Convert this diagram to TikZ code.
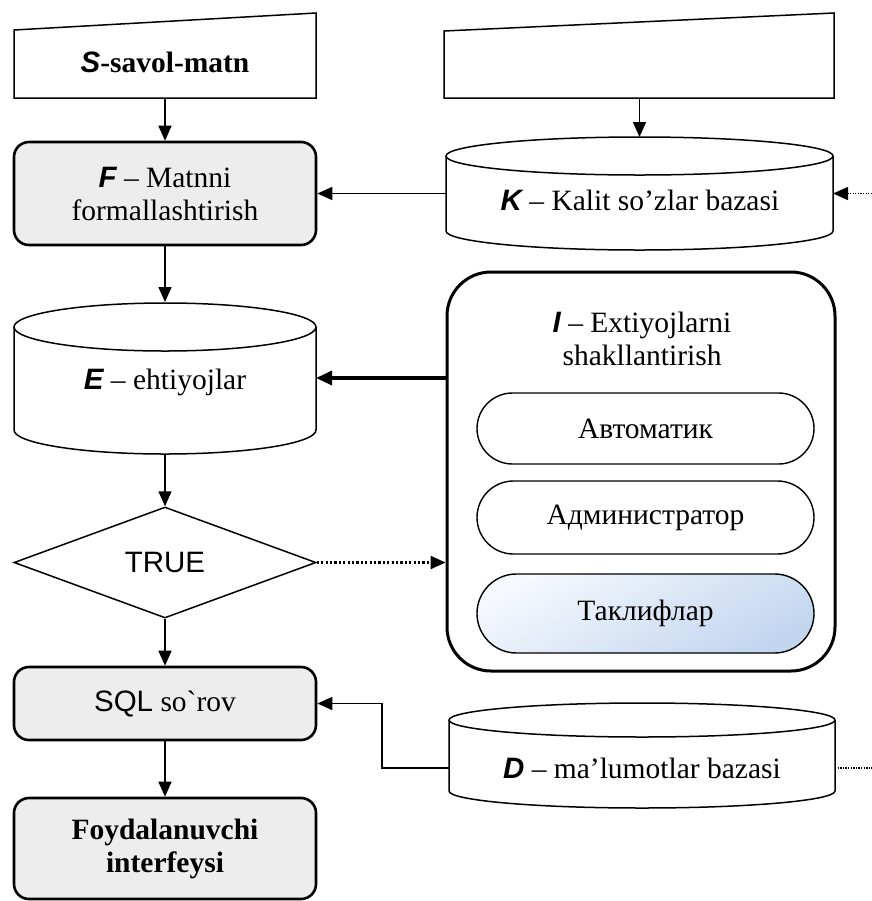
\documentclass[tikz,border=0pt]{standalone}
\usepackage{fontspec}
\setmainfont{Liberation Serif}
\newfontfamily\arialf{Liberation Sans}
\newfontfamily\nolig{Liberation Serif}[Ligatures=ResetAll]
\usetikzlibrary{arrows.meta,calc,shapes.geometric,shapes.misc}
\definecolor{boxgray}{HTML}{EDEDED}
\definecolor{pillblue}{HTML}{C3D6EF}
\definecolor{pilllight}{HTML}{F5F8FD}
\newcommand{\bi}[1]{{\arialf\bfseries\itshape #1}}
\newcommand{\dbcyl}[5]{% cx, half width, top centre y, bottom centre y, ry
  \draw[thinline, fill=white] (#1-#2,#3) -- (#1-#2,#4)
    arc[start angle=180, end angle=0, x radius=#2, y radius=#5] -- (#1+#2,#3);
  \draw[thinline, fill=white] (#1,#3) ellipse [x radius=#2, y radius=#5];
}
\begin{document}
\begin{tikzpicture}[x=0.5pt,y=-0.5pt,
  every node/.style={font=\fontsize{14.75}{16.5}\selectfont, align=center, inner sep=0pt},
  thinline/.style={line width=0.75pt},
  procbox/.style={draw, line width=1.3pt, fill=boxgray, rounded corners=7.5pt, minimum width=151pt},
  pill/.style={draw, line width=0.7pt, rounded rectangle, minimum width=168.5pt},
  frame/.style={inner sep=0pt, outer sep=0pt},
  arr/.style={-{Triangle[length=7.5pt,width=6.5pt]}, line width=0.75pt},
  thickarr/.style={-{Triangle[length=8pt,width=7pt]}, line width=1.6pt},
  dotline/.style={line width=0.65pt, dash pattern=on 0.65pt off 0.65pt},
  dotarr/.style={-{Triangle[length=7.5pt,width=6.5pt]}, line width=1.1pt, dash pattern=on 1.1pt off 1.1pt},
]
\useasboundingbox (0,0) rectangle (872,901);

% manual input shapes
\node[frame, minimum width=151pt, minimum height=42.5pt] (S) at (165,55.5) {};
\draw[thinline] (S.south west) -- (S.south east) -- (S.north east) -- ($(S.north west)+(0,17)$) -- cycle;
\node (St) at (165,62) {\bi{S}\textbf{-savol-matn}};

\node[frame, minimum width=195pt, minimum height=42.5pt] (R) at (639,55.5) {};
\draw[thinline] (R.south west) -- (R.south east) -- (R.north east) -- ($(R.north west)+(0,18)$) -- cycle;

% left column
\node[procbox, minimum height=51.5pt] (F) at (165,193.5) {\bi{F} – Matnni\\formallashtirish};

\dbcyl{165}{151}{327}{430}{24}
\node[frame, minimum width=151pt, minimum height=76pt] (E) at (165,378) {};
\node (Et) at (165,382) {\bi{E} – ehtiyojlar};

\node[draw, diamond, thinline, minimum width=151pt, minimum height=55.5pt] (T) at (165,562.5) {\arialf TRUE};

\node[procbox, minimum height=36.5pt] (Q) at (165,703.5) {{\arialf SQL} so{\nolig `}rov};

\node[procbox, minimum height=50.5pt] (U) at (165,848.5) {\bfseries Foydalanuvchi\\\bfseries interfeysi};

% right column
\dbcyl{639.5}{193.5}{156}{231}{19}
\node[frame, minimum width=193.5pt, minimum height=56.5pt] (K) at (639.5,193.5) {};
\node (Kt) at (640,200) {\bi{K} – Kalit so’zlar bazasi};

\node[draw, line width=1.5pt, rounded corners=22pt, minimum width=194pt, minimum height=199.5pt] (I) at (641,471.5) {};
\node (It) at (642,339) {\bi{I} – Extiyojlarni\\shakllantirish};
\node[pill, minimum height=35.5pt] (P1) at (645.5,428.5) {Автоматик};
\node[pill, minimum height=36.5pt] (P2) at (645.5,517.5) {Администратор};
\node[pill, minimum height=39.5pt, top color=pilllight, bottom color=pillblue, shading angle=30] (P3) at (645.5,613.5) {Таклифлар};

\dbcyl{642}{193}{720}{791}{17}
\node[frame, minimum width=193pt, minimum height=53pt] (D) at (642,755) {};
\node (Dt) at (642,768) {\bi{D} – ma’lumotlar bazasi};

% free ends
\coordinate (kin) at (872,193.5);
\coordinate (dout) at (872,768);

% connectors
\draw[arr] (S.south) -- (F.north);
\draw[arr] (F.south) -- (E.north);
\draw[arr] (E.south) -- (T.north);
\draw[arr] (T.south) -- (Q.north);
\draw[arr] (Q.south) -- (U.north);
\draw[arr] (R.south -| K.north) -- (K.north);
\draw[arr] (K.west) -- (F.east);
\draw[dotarr, line width=0.65pt, dash pattern=on 0.65pt off 0.65pt] (kin) -- (K.east);
\draw[thickarr] (I.west |- E.east) -- (E.east);
\draw[dotarr] (T.east) -- (I.west |- T.east);
\draw[arr] (D.west |- Dt) -- ++(-67,0) |- (Q.east);
\draw[dotline] (D.east |- Dt) -- (dout);
\end{tikzpicture}
\end{document}
